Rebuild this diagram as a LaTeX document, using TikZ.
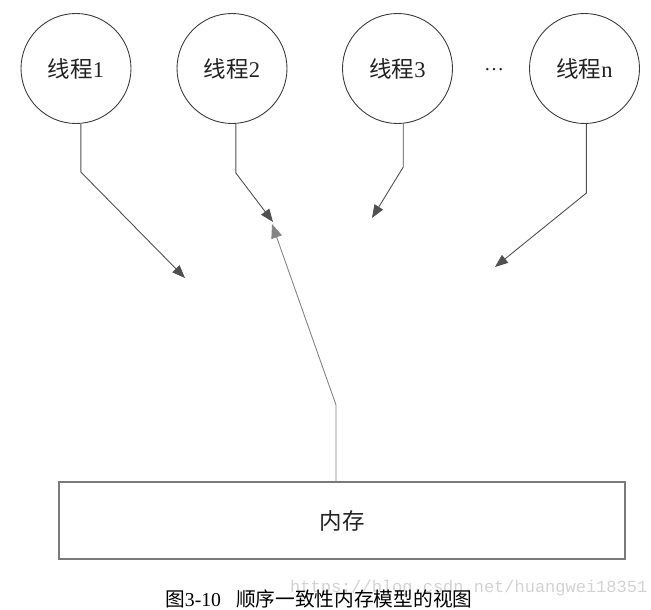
\documentclass[tikz,border=0pt]{standalone}
\usepackage{fontspec}
\setmainfont{Liberation Serif}
\newfontfamily\cjk{Noto Sans CJK SC}
\newfontfamily\wmfont{Liberation Mono}
\usetikzlibrary{arrows.meta,calc}
\definecolor{edgegray}{HTML}{3C3C3C}
\definecolor{linegray}{HTML}{505050}
\definecolor{upgray}{HTML}{858585}
\definecolor{boxgray}{HTML}{7A7A7A}
\definecolor{txt}{HTML}{222222}
\definecolor{wm}{HTML}{D2D2D2}
\tikzset{
  thread/.style={circle,draw=edgegray,line width=0.9pt,minimum size=110pt,inner sep=0pt,
    text=txt,font=\fontsize{22.5pt}{27pt}\selectfont},
  membox/.style={rectangle,draw=boxgray,line width=1.3pt,minimum width=566pt,minimum height=77pt,
    inner sep=0pt,text=txt,font=\fontsize{22.5pt}{27pt}\selectfont\cjk},
  darr/.style={draw=linegray,line width=0.9pt,-{Triangle[length=13pt,width=10pt]}},
  uarr/.style={draw=upgray,line width=0.9pt,-{Triangle[length=14pt,width=11pt]}},
}
\begin{document}
\begin{tikzpicture}[x=1pt,y=-1pt]
\useasboundingbox (0,0) rectangle (651,610);
% threads
\node[thread] (c1) at (76,68.5) {{\cjk 线程}1};
\node[thread] (c2) at (232,68.5) {{\cjk 线程}2};
\node[thread] (c3) at (397.5,68.5) {{\cjk 线程}3};
\node[thread] (cn) at (584.5,68.5) {{\cjk 线程}n};
\node[text=txt,font=\fontsize{20pt}{24pt}\selectfont] (dots) at (494,69.5) {…};
% memory
\node[membox] (mem) at (342,520.5) {内存};
% arrow targets and bends
\coordinate (b1) at (81.5,172);
\coordinate (t1) at (185,278);
\coordinate (b2) at (235.5,173);
\coordinate (t2) at (273,222);
\coordinate (b3) at (403,167);
\coordinate (t3) at (372,218);
\coordinate (bn) at (586,193);
\coordinate (tn) at (495,267);
\coordinate (ub) at (336,405);
\coordinate (tu) at (272,224);
% connectors
\draw[darr] (c1.-85) -- (c1.-85 |- b1) -- (t1);
\draw[darr] (c2.-86) -- (c2.-86 |- b2) -- (t2);
\draw[darr] (c3.-84) -- (c3.-84 |- b3) -- (t3);
\draw[darr] (cn.-88) -- (cn.-88 |- bn) -- (tn);
\draw[uarr] (mem.north -| ub) -- (ub) -- (tu);
% watermark and caption
\node[anchor=west,inner sep=0pt,text=wm,font=\fontsize{17pt}{20pt}\wmfont] (wmk) at (290,588) {https://blog.csdn.net/huangwei18351};
\node[anchor=west,inner sep=0pt,text=black,font=\fontsize{19.7pt}{23pt}\selectfont] (cap) at (165,599)
  {{\cjk 图}3-10\hspace{15pt}{\cjk 顺序一致性内存模型的视图}};
\end{tikzpicture}
\end{document}
